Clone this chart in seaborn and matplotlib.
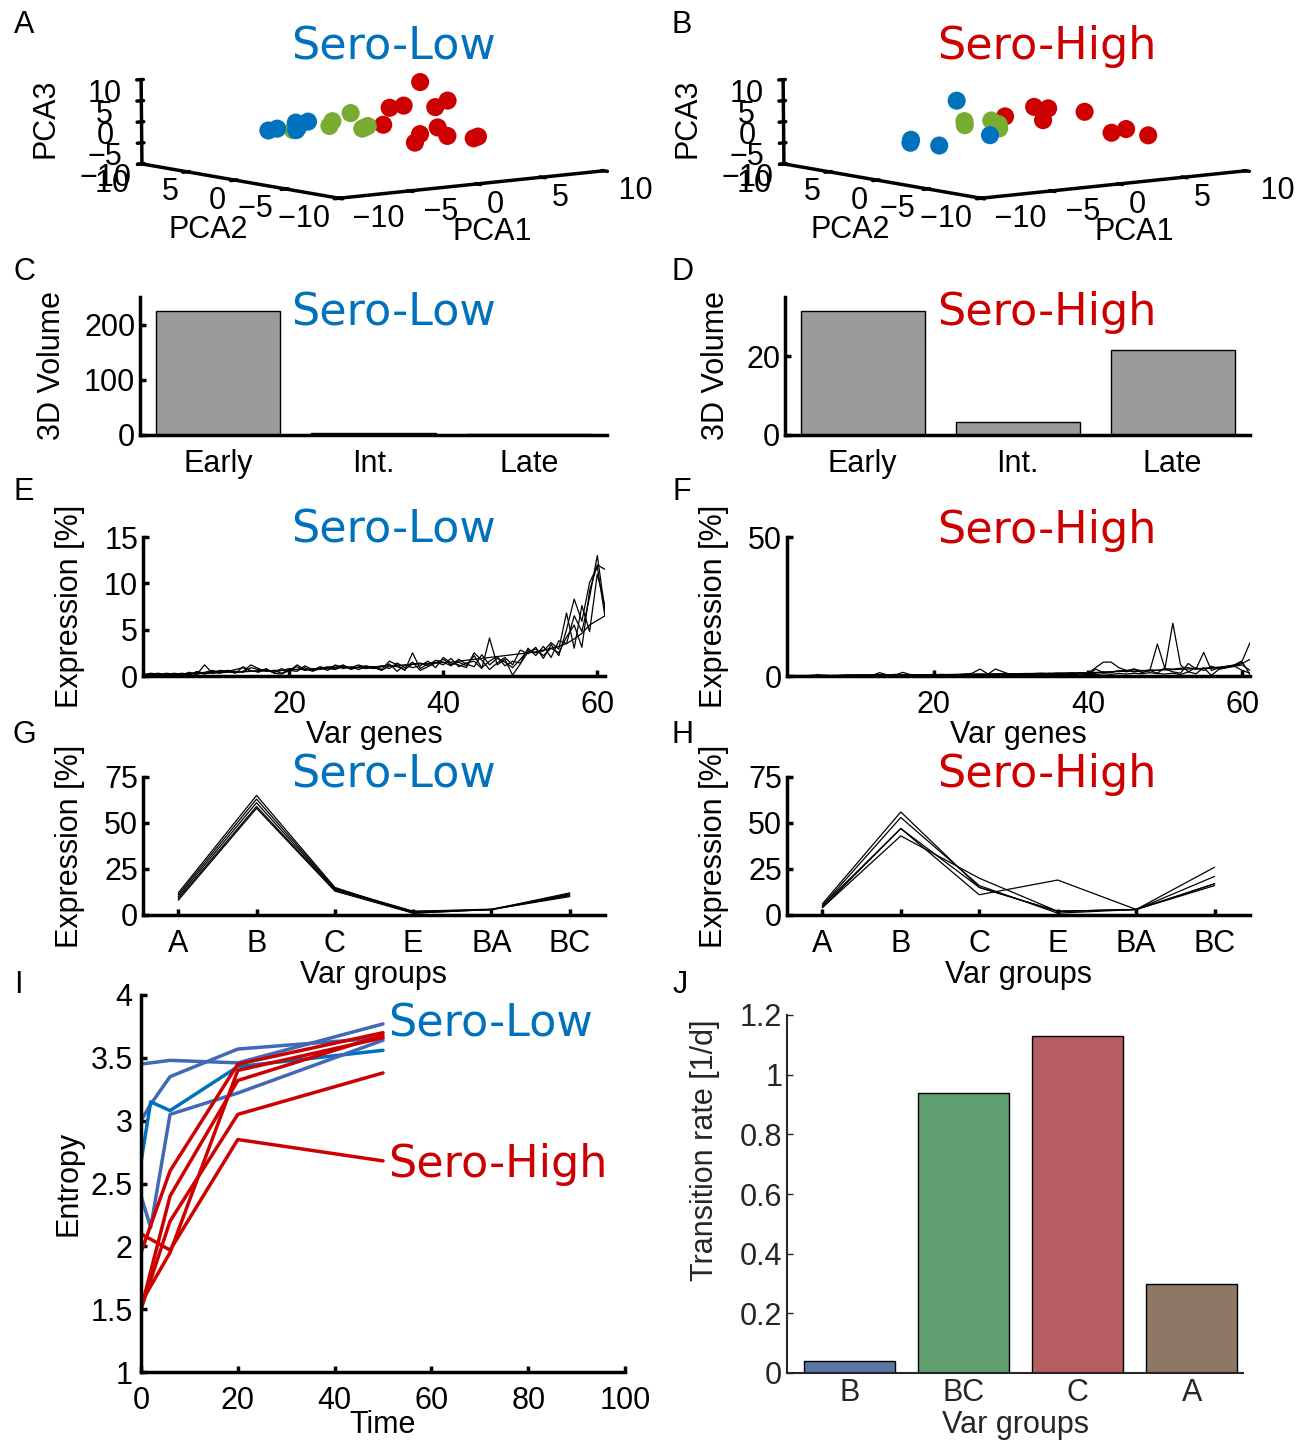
import numpy as np
import pandas as pd
import matplotlib
matplotlib.use("Agg")
import matplotlib.pyplot as plt
import seaborn as sns

W, H = 1309, 1441

# ---------------- data ----------------
# A / B : PCA scatter (PCA1, PCA2, PCA3) per cluster
low_blue_x = [-7.6, -6.6, -5.9, -5.6, -5.2, -4.7, -5.8]
low_blue_y = [0.0, 0.5, -0.5, 0.0, 0.5, 0.0, -0.5]
low_blue_z = [0.6, 0.6, 1.5, 1.9, -0.1, 1.9, 1.0]
low_green_x = [-3.1, -2.5, -1.5, -1.0, -0.4, 0.2, -5.8]
low_green_y = [0.0, 0.5, 0.0, -0.5, 0.0, 0.5, 0.0]
low_green_z = [0.5, 1.3, 3.1, -0.5, -0.5, -0.5, 0.2]
low_red_x = [3.9, 1.9, 2.6, 4.7, 6.1, 1.4, 3.9, 4.9, 6.1, 3.9, 8.6, 8.5]
low_red_y = [0.0, 0.5, 0.0, -0.5, 0.0, 0.5, 0.0, -0.5, 0.0, 0.5, 0.0, 0.3]
low_red_z = [9.2, 3.4, 3.9, 3.2, 4.3, -0.5, -3.2, -1.7, -4.2, -5.4, -5.0, -5.5]

high_blue_x = [-4.2, -7.6, -7.2, -5.5, -1.7]
high_blue_y = [0.0, 0.0, 0.5, 0.0, 0.0]
high_blue_z = [6.6, -2.2, -1.8, -3.4, -2.0]
high_green_x = [-3.6, -3.4, -1.6, -1.2, -0.8, -1.0]
high_green_y = [0.0, 0.3, 0.0, 0.0, 0.3, 0.0]
high_green_z = [0.8, 1.6, 1.4, -0.2, 0.2, -0.6]
high_red_x = [-0.55, 1.7, 2.8, 2.4, 5.7, 7.9, 9.1, 9.2]
high_red_y = [0.0, 0.0, 0.0, 0.0, 0.0, 0.0, 0.0, -2.0]
high_red_z = [2.1, 3.8, 3.2, 0.5, 1.7, -3.9, -3.3, -4.2]

pca_ticks = [-10, -5, 0, 5, 10]
pca_tick_text = ["\u221210", "\u22125", "0", "5", "10"]

# C / D : 3D volume
stages = ["Early", "Int.", "Late"]
volume_low = [225, 4, 2]
volume_high = [31.5, 3.3, 21.5]

# E / F : expression of var genes (5 samples each)
genes = list(range(1, 62))
expr_low_1 = [0.1, 0.2, 0.1, 0.3, 0.2, 0.1, 0.4, 0.2, 1.2, 0.3,
              0.5, 0.6, 0.4, 0.5, 1.2, 0.8, 0.5, 0.6, 0.3, 0.7,
              1.0, 0.6, 0.8, 0.7, 0.9, 1.1, 1.0, 0.8, 0.9, 0.8,
              1.0, 0.7, 1.6, 1.2, 0.6, 2.5, 0.8, 1.3, 1.5, 1.2,
              1.9, 1.0, 1.4, 1.6, 0.8, 4.1, 1.2, 1.8, 0.1, 1.3,
              2.6, 2.9, 2.2, 3.0, 2.5, 4.2, 5.5, 3.1, 9.2, 12.0, 11.5]
expr_low_2 = [0.2, 0.1, 0.2, 0.1, 0.3, 0.2, 0.1, 0.5, 0.3, 0.4,
              0.6, 0.5, 0.7, 0.9, 0.6, 0.4, 0.8, 0.3, 0.2, 0.6,
              0.5, 1.1, 0.7, 0.9, 0.6, 1.2, 0.8, 1.0, 0.7, 1.0,
              0.9, 1.1, 0.8, 1.4, 0.9, 1.5, 0.6, 1.0, 1.4, 1.8,
              1.2, 1.5, 1.1, 2.2, 0.9, 1.6, 2.1, 1.1, 1.6, 1.4,
              3.0, 2.2, 3.2, 2.0, 3.8, 3.5, 6.5, 4.8, 8.5, 13.0, 7.0]
expr_low_3 = [0.1, 0.3, 0.2, 0.2, 0.1, 0.3, 0.2, 0.4, 0.2, 0.5,
              0.3, 0.6, 0.5, 0.4, 0.9, 0.7, 0.6, 0.4, 0.8, 0.5,
              1.2, 0.7, 0.6, 1.0, 0.8, 0.7, 1.1, 0.9, 1.2, 0.9,
              0.8, 1.0, 1.3, 0.5, 1.2, 0.9, 1.1, 1.6, 0.9, 2.0,
              1.4, 1.2, 0.9, 2.5, 1.7, 0.7, 1.4, 2.0, 1.2, 2.8,
              2.4, 3.1, 1.9, 3.4, 2.2, 5.0, 8.3, 5.9, 10.1, 11.8, 6.4]
expr_low_4 = [0.2, 0.2, 0.3, 0.1, 0.2, 0.2, 0.3, 0.2, 0.4, 0.6,
              0.4, 0.5, 0.3, 1.0, 0.5, 0.6, 0.7, 0.4, 0.6, 0.8,
              0.7, 0.9, 0.5, 0.8, 1.0, 0.9, 1.2, 0.7, 1.0, 1.1,
              0.9, 0.6, 1.1, 1.0, 0.7, 1.3, 1.4, 1.1, 1.7, 1.5,
              1.1, 1.8, 1.3, 1.0, 2.3, 1.2, 1.9, 1.5, 0.9, 1.8,
              2.8, 2.5, 2.7, 3.6, 2.9, 6.8, 3.0, 7.6, 4.8, 11.0, 7.5]
expr_low_5 = [0.0, 0.05, 0.1, 0.1, 0.15, 0.2, 0.2, 0.25, 0.3, 0.3,
              0.35, 0.4, 0.4, 0.45, 0.5, 0.5, 0.55, 0.6, 0.6, 0.65,
              0.7, 0.7, 0.75, 0.8, 0.8, 0.85, 0.9, 0.9, 0.95, 1.0,
              1.0, 1.05, 1.1, 1.15, 1.2, 1.25, 1.3, 1.35, 1.4, 1.45,
              1.5, 1.6, 1.7, 1.8, 1.9, 2.0, 2.1, 2.2, 2.3, 2.4,
              2.5, 2.6, 2.8, 3.0, 3.2, 3.5, 4.0, 4.6, 5.5, 6.0, 6.5]

expr_high_1 = [0.2, 0.1, 0.1, 0.2, 0.5, 0.1, 0.2, 0.1, 0.3, 0.4,
               0.3, 0.2, 1.2, 0.4, 0.3, 1.3, 0.5, 0.3, 0.2, 0.4,
               0.3, 0.5, 0.4, 0.6, 1.0, 2.5, 0.8, 0.6, 0.9, 0.7,
               0.8, 0.6, 0.9, 1.0, 0.7, 1.1, 0.9, 1.2, 0.8, 1.0,
               3.0, 5.0, 5.0, 3.0, 2.0, 1.5, 2.0, 1.8, 11.5, 2.5,
               1.5, 1.0, 4.5, 2.5, 8.5, 2.0, 3.0, 3.5, 4.0, 5.5, 12.0]
expr_high_2 = [0.1, 0.2, 0.1, 0.1, 0.2, 0.2, 0.1, 0.3, 0.2, 0.1,
               0.4, 0.3, 0.5, 0.2, 0.6, 0.4, 0.2, 0.5, 0.3, 0.6,
               0.4, 0.3, 0.5, 0.7, 0.5, 0.4, 0.6, 2.5, 1.5, 0.5,
               0.6, 0.7, 0.5, 0.8, 0.9, 0.6, 0.8, 0.7, 1.2, 0.9,
               1.0, 1.5, 1.2, 2.0, 1.5, 2.5, 1.2, 2.0, 1.0, 3.0,
               19.0, 4.0, 1.5, 3.0, 2.0, 3.5, 2.5, 3.0, 4.0, 5.0, 0.5]
expr_high_3 = [0.0, 0.1, 0.2, 0.1, 0.1, 0.3, 0.1, 0.2, 0.4, 0.2,
               0.3, 0.4, 0.2, 0.5, 0.3, 0.2, 0.4, 0.3, 0.5, 0.4,
               0.6, 0.4, 0.3, 0.5, 0.6, 0.7, 0.5, 0.6, 0.8, 0.5,
               0.7, 0.6, 0.8, 0.7, 0.9, 0.8, 1.0, 0.8, 1.1, 0.4,
               2.5, 1.2, 1.5, 1.8, 2.0, 2.5, 1.8, 2.2, 2.0, 2.6,
               2.5, 2.8, 3.0, 2.5, 2.8, 3.0, 3.2, 3.5, 3.8, 4.5, 6.0]
expr_high_4 = [0.0, 0.0, 0.05, 0.1, 0.1, 0.1, 0.15, 0.2, 0.2, 0.2,
               0.25, 0.3, 0.3, 0.3, 0.35, 0.4, 0.4, 0.4, 0.45, 0.5,
               0.5, 0.55, 0.6, 0.6, 0.65, 0.7, 0.7, 0.75, 0.8, 0.8,
               0.85, 0.9, 0.9, 0.95, 1.0, 1.0, 1.05, 1.1, 1.1, 1.2,
               1.3, 1.4, 1.5, 1.6, 1.7, 1.8, 1.9, 2.0, 2.1, 2.2,
               2.3, 2.4, 2.5, 2.6, 2.7, 2.8, 3.0, 3.2, 3.5, 4.0, 2.0]
expr_high_5 = [0.1, 0.0, 0.1, 0.2, 0.1, 0.1, 0.2, 0.1, 0.1, 0.3,
               0.2, 0.1, 0.3, 0.2, 0.2, 0.1, 0.3, 0.2, 0.1, 0.2,
               0.3, 0.2, 0.4, 0.3, 0.2, 0.5, 0.4, 0.3, 0.5, 0.4,
               0.3, 0.5, 0.4, 0.6, 0.5, 0.4, 0.6, 0.5, 0.7, 0.6,
               0.5, 0.8, 0.6, 0.9, 0.7, 1.0, 0.8, 1.2, 0.9, 0.7,
               1.0, 0.5, 1.5, 0.8, 3.0, 0.2, 2.5, 3.0, 3.5, 2.0, 1.0]

# G / H : expression per var group
var_groups = ["A", "B", "C", "E", "BA", "BC"]
grp_low_1 = [8, 58, 13, 1, 3, 10]
grp_low_2 = [9, 59, 13.5, 1.5, 3, 10.5]
grp_low_3 = [10, 61, 14, 2, 3.2, 11]
grp_low_4 = [11, 63, 14.5, 2, 2.8, 11.5]
grp_low_5 = [12, 65, 15, 1, 3, 12]
grp_high_1 = [4, 43, 20, 2, 3, 16]
grp_high_2 = [5, 47, 15, 2, 3, 17]
grp_high_3 = [5, 53, 16, 1, 3, 21]
grp_high_4 = [6, 56, 15, 2, 3, 26]
grp_high_5 = [4, 47, 11, 19, 3, 17]

# I : entropy over time
time_low = [0, 2, 6, 20, 50]
ent_low_1 = [3.00, 3.13, 3.35, 3.57, 3.66]
ent_low_2 = [3.45, 3.46, 3.48, 3.46, 3.77]
ent_low_3 = [2.67, 3.15, 3.08, 3.43, 3.56]
ent_low_4 = [2.40, 2.15, 3.05, 3.22, 3.64]
time_high = [0, 6, 20, 50]
ent_high_1 = [2.10, 1.97, 2.85, 2.68]
ent_high_2 = [1.95, 2.60, 3.45, 3.70]
ent_high_3 = [1.50, 2.40, 3.32, 3.68]
ent_high_4 = [1.50, 2.20, 3.05, 3.38]
ent_high_5 = [1.55, 1.95, 3.40, 3.66]

# J : transition rates
trans_groups = ["B", "BC", "C", "A"]
trans_rate = [0.04, 0.94, 1.13, 0.30]

# ---------------- style ----------------
C_LOW = "#0072BD"
C_LOW2 = "#4169B8"
C_MID = "#77AC30"
C_HIGH = "#CC0000"

sns.set_theme(style="ticks")
plt.rcParams["font.family"] = ["Liberation Sans", "DejaVu Sans"]
plt.rcParams.update({
    "axes.linewidth": 2.5,
    "axes.edgecolor": "black",
    "xtick.direction": "in",
    "ytick.direction": "in",
    "xtick.major.width": 2.5,
    "ytick.major.width": 2.5,
    "xtick.major.size": 4,
    "ytick.major.size": 4,
    "xtick.color": "black",
    "ytick.color": "black",
    "xtick.labelsize": 22,
    "ytick.labelsize": 22,
    "axes.labelsize": 22,
    "axes.labelcolor": "black",
    "text.color": "black",
})

fig = plt.figure(figsize=(W / 100, H / 100), dpi=100)


def add_ax(x0, y0, x1, y1, **kw):
    return fig.add_axes([x0 / W, 1 - y1 / H, (x1 - x0) / W, (y1 - y0) / H], **kw)


def ftxt(px, py, s, **kw):
    fig.text(px / W, 1 - py / H, s, **kw)


def ylab_at(ax, text, px, py=None):
    ax.set_ylabel(text, va="center")
    bb = ax.get_position()
    fy = bb.y0 + bb.height / 2 if py is None else 1 - py / H
    ax.yaxis.set_label_coords(px / W, fy, transform=fig.transFigure)


def xlab_at(ax, text, py):
    ax.set_xlabel(text, va="center")
    bb = ax.get_position()
    ax.xaxis.set_label_coords(bb.x0 + bb.width / 2, 1 - py / H, transform=fig.transFigure)


def title_at(px, py, text, color):
    ftxt(px, py, text, color=color, fontsize=32, family="DejaVu Sans", ha="center", va="center")


def matlab_axes(ax):
    sns.despine(ax=ax)


# ---------------- A / B : 3D scatter ----------------
# MATLAB puts the floor tick labels a little away from the front corner;
# padding spaces nudge the centred labels the same way
x_lead = [7, 5, 2, 2, 5]
y_trail = [5, 4, 1, 1, 4]


def pca_panel(cx, cy, groups):
    half = 230
    ax = add_ax(cx - half, cy - half, cx + half, cy + half, projection="3d")
    for xs, ys, zs, col in groups:
        ax.scatter(xs, ys, zs, color=col, s=170, depthshade=False, edgecolors="none", alpha=1)
    ax.set_xlim(-10, 10)
    ax.set_ylim(-10, 10)
    ax.set_zlim(-10, 10)
    ax.set_xticks(pca_ticks, labels=[" " * n + t for n, t in zip(x_lead, pca_tick_text)])
    ax.set_yticks(pca_ticks, labels=[t + " " * n for n, t in zip(y_trail, pca_tick_text)])
    ax.set_zticks(pca_ticks, labels=pca_tick_text)
    ax.view_init(elev=6, azim=-128)
    ax.set_box_aspect((1.0, 1.0, 0.26), zoom=1.0)
    ax.grid(False)
    for a in (ax.xaxis, ax.yaxis, ax.zaxis):
        a.set_pane_color((1, 1, 1, 0))
        a.line.set_linewidth(2.5)
        a.line.set_color("black")
        a.set_tick_params(labelsize=22, colors="black", pad=0)
    ax.zaxis.set_tick_params(pad=6)
    ax.patch.set_alpha(0)
    # axis names placed like the original MATLAB export
    ftxt(cx - 156, cy + 99, "PCA2", fontsize=22, ha="center", va="center")
    ftxt(cx + 128, cy + 101, "PCA1", fontsize=22, ha="center", va="center")
    ftxt(cx - 319, cy - 13, "PCA3", fontsize=22, ha="center", va="center", rotation=90)
    return ax


pca_panel(364, 131, [
    (low_blue_x, low_blue_y, low_blue_z, C_LOW),
    (low_green_x, low_green_y, low_green_z, C_MID),
    (low_red_x, low_red_y, low_red_z, C_HIGH),
])
pca_panel(1006, 131, [
    (high_blue_x, high_blue_y, high_blue_z, C_LOW),
    (high_green_x, high_green_y, high_green_z, C_MID),
    (high_red_x, high_red_y, high_red_z, C_HIGH),
])

# ---------------- C / D : bars ----------------
for box, vals, ylim, yt, lab_x in [((140, 297, 607, 435), volume_low, 250, [0, 100, 200], 52),
                                   ((785, 297, 1250, 435), volume_high, 35, [0, 20], 716)]:
    ax = add_ax(*box)
    sns.barplot(x=stages, y=vals, color="#9B9B9B", saturation=1, edgecolor="black",
                linewidth=1, width=0.8, ax=ax)
    ax.set_ylim(0, ylim)
    ax.set_xlim(-0.5, 2.5)
    ax.set_yticks(yt)
    ax.tick_params(axis="x", length=0, pad=10)
    matlab_axes(ax)
    ylab_at(ax, "3D Volume", lab_x)

# ---------------- E / F : var genes ----------------
for box, lines, ylim, yt, lab_x in [
        ((143, 537, 605, 676), [expr_low_1, expr_low_2, expr_low_3, expr_low_4, expr_low_5], 15, [0, 5, 10, 15], 70),
        ((787, 537, 1250, 676), [expr_high_1, expr_high_2, expr_high_3, expr_high_4, expr_high_5], 50, [0, 50], 714)]:
    ax = add_ax(*box)
    df = pd.DataFrame({
        "gene": genes * len(lines),
        "expr": sum(lines, []),
        "sample": np.repeat(np.arange(len(lines)), len(genes)),
    })
    sns.lineplot(data=df, x="gene", y="expr", units="sample", estimator=None,
                 color="black", linewidth=0.9, ax=ax)
    ax.set_xlim(1, 61)
    ax.set_ylim(0, ylim)
    ax.set_xticks([20, 40, 60])
    ax.set_yticks(yt)
    ax.tick_params(axis="x", pad=10)
    matlab_axes(ax)
    ylab_at(ax, "Expression [%]", lab_x)
    xlab_at(ax, "Var genes", 735)

# ---------------- G / H : var groups ----------------
for box, lines, lab_x in [
        ((143, 777, 605, 915), [grp_low_1, grp_low_2, grp_low_3, grp_low_4, grp_low_5], 70),
        ((787, 777, 1250, 915), [grp_high_1, grp_high_2, grp_high_3, grp_high_4, grp_high_5], 714)]:
    ax = add_ax(*box)
    df = pd.DataFrame({
        "group": var_groups * len(lines),
        "expr": sum(lines, []),
        "sample": np.repeat(np.arange(len(lines)), len(var_groups)),
    })
    sns.lineplot(data=df, x="group", y="expr", units="sample", estimator=None, sort=False,
                 color="black", linewidth=0.9, ax=ax)
    ax.set_xlim(-0.45, 5.45)
    ax.set_ylim(0, 75)
    ax.set_yticks([0, 25, 50, 75])
    ax.tick_params(axis="x", pad=10)
    matlab_axes(ax)
    ylab_at(ax, "Expression [%]", lab_x)
    xlab_at(ax, "Var groups", 975)

# ---------------- I : entropy ----------------
axI = add_ax(141, 995, 625, 1372)
rows = []
for i, vals in enumerate([ent_low_1, ent_low_2, ent_low_3, ent_low_4]):
    for t, v in zip(time_low, vals):
        rows.append(("low%d" % i, t, v))
for i, vals in enumerate([ent_high_1, ent_high_2, ent_high_3, ent_high_4, ent_high_5]):
    for t, v in zip(time_high, vals):
        rows.append(("high%d" % i, t, v))
ent_df = pd.DataFrame(rows, columns=["trace", "time", "entropy"])
ent_pal = {"low0": C_LOW2, "low1": C_LOW2, "low2": C_LOW, "low3": C_LOW2}
ent_pal.update({"high%d" % i: C_HIGH for i in range(5)})
sns.lineplot(data=ent_df, x="time", y="entropy", hue="trace", palette=ent_pal,
             estimator=None, linewidth=2.5, legend=False, ax=axI)
axI.set_xlim(0, 100)
axI.set_ylim(1, 4)
axI.set_xticks([0, 20, 40, 60, 80, 100])
axI.set_yticks([1, 1.5, 2, 2.5, 3, 3.5, 4])
axI.set_yticklabels(["1", "1.5", "2", "2.5", "3", "3.5", "4"])
axI.tick_params(axis="y", pad=6)
axI.tick_params(axis="x", pad=10)
matlab_axes(axI)
ylab_at(axI, "Entropy", 68)
xlab_at(axI, "Time", 1425)
axI.text(51, 3.77, "Sero-Low", color=C_LOW, fontsize=32, family="DejaVu Sans", va="center")
axI.text(51, 2.65, "Sero-High", color=C_HIGH, fontsize=32, family="DejaVu Sans", va="center")

# ---------------- J : transition rates ----------------
axJ = add_ax(787, 1015, 1243, 1373)
deep = sns.color_palette("deep")
sns.barplot(x=trans_groups, y=trans_rate, hue=trans_groups,
            palette=[deep[0], deep[2], deep[3], deep[5]], saturation=0.75,
            edgecolor="black", linewidth=1, width=0.8, legend=False, ax=axJ)
axJ.set_ylim(0, 1.2)
axJ.set_xlim(-0.55, 3.45)
axJ.set_yticks([0, 0.2, 0.4, 0.6, 0.8, 1.0, 1.2])
axJ.set_yticklabels(["0", "0.2", "0.4", "0.6", "0.8", "1", "1.2"])
for s in ("left", "bottom"):
    axJ.spines[s].set_linewidth(1.5)
    axJ.spines[s].set_color("#262626")
axJ.tick_params(colors="#262626", width=1, length=4, labelsize=22)
sns.despine(ax=axJ)
ylab_at(axJ, "Transition rate [1/d]", 705, 1150)
xlab_at(axJ, "Var groups", 1425)
axJ.yaxis.label.set_color("#262626")
axJ.xaxis.label.set_color("#262626")

# ---------------- titles / panel letters ----------------
for py in (47, 313, 530, 775):
    title_at(393, py, "Sero-Low", C_LOW)
    title_at(1047, py, "Sero-High", C_HIGH)

for letter, px, py in [("A", 24, 25), ("B", 682, 25), ("C", 24, 272), ("D", 682, 272),
                       ("E", 24, 492), ("F", 682, 492), ("G", 24, 735), ("H", 682, 735),
                       ("I", 18, 985), ("J", 680, 985)]:
    ftxt(px, py, letter, fontsize=22, ha="center", va="center", color="black")

fig.savefig("out.png", dpi=100)
